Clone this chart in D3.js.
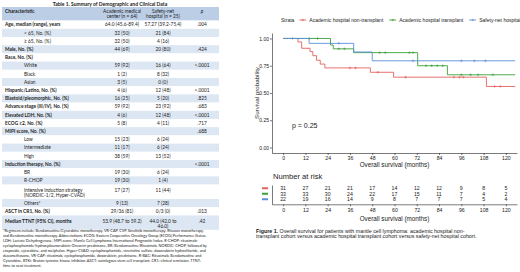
<!DOCTYPE html>
<html>
<head>
<meta charset="utf-8">
<script src="https://cdn.jsdelivr.net/npm/d3@7"></script>
<style>
  body { margin: 0; background: #fff; }
  svg { display: block; }
  .tbl text { font-family: Lato, "Open Sans", sans-serif; fill: #1a1a1a; }
  .km text { font-family: "Liberation Sans", Arial, sans-serif; fill: #1a1a1a; }
  .axis path, .axis line { stroke: #222; stroke-width: 0.6; }
</style>
</head>
<body>
<div id="svg-container"></div>
<script>
////////////////////////////////////////////////////////////////////
////////////////////////////  Data  ////////////////////////////////
// Table 1
const tableTitle = "Table 1. Summary of Demographic and Clinical Data";
const headers = ["Characteristic", "Academic medical\ncenter (n = 64)", "Safety-net\nhospital (n = 25)", "p"];
const rowLabels = [
  "Age, median (range), years", "< 65, No. (%)", "≥ 65, No. (%)", "Male, No. (%)",
  "Race, No. (%)", "White", "Black", "Asian", "Hispanic/Latino, No. (%)",
  "Blastoid/pleomorphic, No. (%)", "Advance stage (III/IV), No. (%)", "Elevated LDH, No. (%)",
  "ECOG ≥2, No. (%)", "MIPI score, No. (%)", "Low", "Intermediate", "High",
  "Induction therapy, No. (%)", "BR", "R-CHOP",
  "Intensive induction strategy\n(NORDIC-1/2, Hyper-CVAD)", "Others*",
  "ASCT in CR1, No. (%)", "Median TTNT (95% CI), months"
];
const academic = [
  "64.0 (45.6-89.4)", "32 (50)", "32 (50)", "44 (69)", "", "59 (92)", "1 (2)", "3 (5)",
  "4 (6)", "16 (25)", "59 (92)", "4 (6)", "5 (8)", "", "15 (23)", "11 (17)", "38 (59)",
  "", "19 (30)", "19 (30)", "17 (27)", "9 (13)", "29/36 (81)", "53.9 (48.7 to 59.2)"
];
const safetyNet = [
  "57.27 (39.2-75.4)", "21 (84)", "4 (16)", "20 (80)", "", "16 (64)", "8 (32)", "0 (0)",
  "12 (48)", "5 (20)", "23 (92)", "12 (48)", "4 (11)", "", "6 (24)", "6 (24)", "13 (52)",
  "", "6 (24)", "1 (4)", "11 (44)", "7 (28)", "0/3 (0)", "44.0 (42.0 to\n46.0)"
];
const pValues = [
  ".004", "", "", ".424", "", "<.0001", "", "", "<.0001", ".825", ".683", "<.0001",
  ".717", ".688", "", "", "", "<.0001", "", "", "", "", ".013", ".42"
];
const subRows = [1, 2, 5, 6, 7, 14, 15, 16, 18, 19, 20, 21];
const footnote = [
  "*Regimens include: Bendamustine/Cytarabine monotherapy, VR-CAP, CVP, Ibrutinib monotherapy, Rituxan monotherapy,",
  "and Bendamustine monotherapy. Abbreviations: ECOG: Eastern Cooperative Oncology Group (ECOG) Performance Status,",
  "LDH: Lactate Dehydrogenase, MIPI score: Mantle Cell Lymphoma International Prognostic Index, R-CHOP: rituximab-",
  "cyclophosphamide-hydroxydaunorubicin-Oncovin-prednisone, BR: Bendamustine/Rituximab, NORDIC: CHOP, followed by",
  "etoposide, cytarabine, and melphalan, Hyper-CVAD: cyclophosphamide, vincristine sulfate, doxorubicin hydrochloride, and",
  "dexamethasone, VR-CAP: rituximab, cyclophosphamide, doxorubicin, prednisone, R-BAC: Rituximab, Bendamustine and",
  "Cytarabine, BTKi: Bruton tyrosine kinase inhibitor, ASCT: autologous stem cell transplant, CR1: clinical remission, TTNT:",
  "time to next treatment."
];

// Figure 1 - Kaplan-Meier
const strata = ["Academic hospital non-transplant", "Academic hospital transplant", "Safety-net hospital"];
const strataColors = ["#e2625e", "#3ba03b", "#5b8fd9"];

const nonTxTimes = [0, 8, 10, 14.5, 16, 18, 20, 22.5, 47, 59.5, 109.5, 125];
const nonTxSurv = [1, 0.968, 0.91, 0.88, 0.842, 0.8, 0.765, 0.73, 0.69, 0.645, 0.56, 0.56];
const nonTxCensor = [36, 39, 51, 66, 92, 95, 97, 114, 117];

const txTimes = [0, 25.5, 27, 38, 72.5, 88.5, 125];
const txSurv = [1, 0.94, 0.905, 0.87, 0.75, 0.667, 0.667];
const txCensor = [14, 18.5, 30, 33, 52, 55, 68, 70, 77, 80, 83, 86, 96, 101, 105, 113];

const snTimes = [0, 14, 38, 48, 125];
const snSurv = [1, 0.955, 0.876, 0.795, 0.795];
const snCensor = [5, 30, 70, 96, 103, 109];

const timeTicks = [0, 12, 24, 36, 48, 60, 72, 84, 96, 108, 120];
const survTicks = [0, 0.25, 0.5, 0.75, 1];
const riskNonTx = [31, 27, 21, 21, 17, 14, 12, 12, 9, 8, 5];
const riskTx = [33, 33, 30, 24, 22, 17, 15, 11, 7, 4, 2];
const riskSn = [22, 19, 16, 14, 9, 8, 7, 7, 7, 5, 4];
const pText = "p = 0.25";

////////////////////////////////////////////////////////////////////
////////////////////////////  Init  ////////////////////////////////
const width = 520, height = 272;
const svg = d3.select("#svg-container").append("svg")
  .attr("width", width).attr("height", height);
svg.append("rect").attr("width", width).attr("height", height).attr("fill", "#fff");

////////////////////////////////////////////////////////////////////
////////////////////////////  Table  ///////////////////////////////
const tbl = svg.append("g").attr("class", "tbl");
const tblLeft = 2, tblRight = 219, headTop = 7, bodyTop = 20.6, unitH = 8.2;
const colX = d3.scaleOrdinal().domain([0, 1, 2, 3]).range([5, 122, 163, 202]);

const rows = rowLabels.map((label, i) => {
  const cells = [label, academic[i], safetyNet[i], pValues[i]].map((c) => c.split("\n"));
  return { i, cells, lines: d3.max(cells, (c) => c.length), sub: subRows.includes(i) };
});
let acc = 0;
rows.forEach((r) => { r.start = acc; acc += r.lines > 1 ? 1.756 : 1; r.end = acc; });
const rowY = d3.scaleLinear().domain([0, acc]).range([bodyTop, bodyTop + acc * unitH]);

tbl.append("text")
  .attr("x", 110).attr("y", 4).attr("dy", "0.35em")
  .attr("text-anchor", "middle").attr("font-size", 5).attr("font-weight", 700)
  .text(tableTitle);

// header
tbl.append("rect")
  .attr("x", tblLeft).attr("y", headTop)
  .attr("width", tblRight - tblLeft).attr("height", bodyTop - headTop)
  .attr("fill", "#bccde6");

headers.forEach((h, j) => {
  h.split("\n").forEach((ln, k) => {
    tbl.append("text")
      .attr("x", colX(j)).attr("y", 11 + k * 5.7).attr("dy", "0.35em")
      .attr("text-anchor", j === 0 ? "start" : "middle")
      .attr("font-size", 4.8)
      .attr("font-weight", j === 0 ? 700 : 400)
      .attr("font-style", j === 3 ? "italic" : "normal")
      .text(ln);
  });
});

// body rows
const rowG = tbl.selectAll(".row").data(rows).enter().append("g").attr("class", "row");
rowG.append("rect")
  .attr("x", tblLeft).attr("y", (d) => rowY(d.start))
  .attr("width", tblRight - tblLeft)
  .attr("height", (d) => rowY(d.end) - rowY(d.start))
  .attr("fill", (d) => (d.i % 2 === 1 ? "#dde7f3" : "#fff"));

rowG.each(function (r) {
  const g = d3.select(this);
  const y0 = rowY(r.start) + unitH / 2 + (r.lines > 1 ? 1.6 : 0);
  r.cells.forEach((cell, j) => {
    cell.forEach((ln, k) => {
      g.append("text")
        .attr("x", j === 0 ? colX(0) + (r.sub ? 19 : 0) : colX(j))
        .attr("y", y0 + k * 5).attr("dy", "0.35em")
        .attr("text-anchor", j === 0 ? "start" : "middle")
        .attr("font-size", 4.8)
        .attr("font-weight", j === 0 && !r.sub ? 700 : 400)
        .text(ln);
    });
  });
});

// footnote
tbl.selectAll(".foot").data(footnote).enter().append("text")
  .attr("class", "foot")
  .attr("x", 3).attr("y", (d, i) => 231 + i * 5).attr("dy", "0.35em")
  .attr("font-size", 3.8)
  .text((d) => d);

////////////////////////////////////////////////////////////////////
////////////////////////////  KM plot  /////////////////////////////
const km = svg.append("g").attr("class", "km");
const x = d3.scaleLinear().domain([-6, 126]).range([272, 517]);
const y = d3.scaleLinear().domain([-0.05, 1.05]).range([153, 33]);

// legend
let lx = 281;
const legY = 20;
const st = km.append("text").attr("x", lx).attr("y", legY).attr("dy", "0.35em")
  .attr("font-size", 5).text("Strata");
lx += st.node().getComputedTextLength() + 5;
const crossPath = (cx, cy, r) => `M${cx - r},${cy}h${2 * r}M${cx},${cy - r}v${2 * r}`;
strata.forEach((s, i) => {
  km.append("line").attr("x1", lx).attr("x2", lx + 7).attr("y1", legY).attr("y2", legY)
    .attr("stroke", strataColors[i]).attr("stroke-width", 0.9);
  km.append("path").attr("d", crossPath(lx + 3.5, legY, 1.2))
    .attr("stroke", strataColors[i]).attr("stroke-width", 0.6);
  lx += 10;
  const t = km.append("text").attr("x", lx).attr("y", legY).attr("dy", "0.35em")
    .attr("font-size", 5).text(s);
  lx += t.node().getComputedTextLength() + 6;
});

// axes
const yAxis = d3.axisLeft(y).tickValues(survTicks).tickFormat(d3.format(".2f"))
  .tickSize(2).tickSizeOuter(0).tickPadding(1);
km.append("g").attr("class", "axis").attr("transform", "translate(272,0)").call(yAxis)
  .attr("font-size", 5).attr("font-family", null);

const xAxis = d3.axisBottom(x).tickValues(timeTicks).tickSize(2).tickSizeOuter(0).tickPadding(1);
km.append("g").attr("class", "axis").attr("transform", "translate(0,153)").call(xAxis)
  .attr("font-size", 5.2).attr("font-family", null);

km.append("text")
  .attr("transform", "translate(257,93) rotate(-90)")
  .attr("text-anchor", "middle").attr("dy", "0.35em").attr("font-size", 6.2)
  .text("Survival probability");
km.append("text")
  .attr("x", 394.5).attr("y", 164.7).attr("dy", "0.35em")
  .attr("text-anchor", "middle").attr("font-size", 6.3)
  .text("Overall survival (months)");

// curves
const curves = [
  { times: nonTxTimes, surv: nonTxSurv, censor: nonTxCensor },
  { times: txTimes, surv: txSurv, censor: txCensor },
  { times: snTimes, surv: snSurv, censor: snCensor },
];
const line = d3.line().curve(d3.curveStepAfter).x((d) => x(d[0])).y((d) => y(d[1]));
curves.forEach((c, i) => {
  const pts = c.times.map((t, k) => [t, c.surv[k]]);
  km.append("path").attr("d", line(pts))
    .attr("fill", "none").attr("stroke", strataColors[i]).attr("stroke-width", 0.9);
  const survAt = (t) => c.surv[d3.bisectRight(c.times, t) - 1];
  km.append("path")
    .attr("d", c.censor.map((t) => crossPath(x(t), y(survAt(t)), 1.3)).join(""))
    .attr("stroke", strataColors[i]).attr("stroke-width", 0.6);
});

km.append("text").attr("x", 292).attr("y", 126).attr("dy", "0.35em")
  .attr("font-size", 7).text(pText);

////////////////////////////////////////////////////////////////////
////////////////////////////  Risk table  //////////////////////////
km.append("text").attr("x", 273).attr("y", 176.7).attr("dy", "0.35em")
  .attr("font-size", 7.6).text("Number at risk");

const riskY = d3.scaleBand().domain(strata).range([185.5, 202]);
const riskRows = [riskNonTx, riskTx, riskSn];
riskRows.forEach((vals, i) => {
  const cy = riskY(strata[i]) + riskY.bandwidth() / 2;
  km.append("line").attr("x1", 262).attr("x2", 268).attr("y1", cy).attr("y2", cy)
    .attr("stroke", strataColors[i]).attr("stroke-width", 2);
  km.selectAll(".risk" + i).data(vals).enter().append("text")
    .attr("x", (d, k) => x(timeTicks[k])).attr("y", cy).attr("dy", "0.35em")
    .attr("text-anchor", "middle").attr("font-size", 5.2)
    .text((d) => d);
});

const riskYAxis = d3.axisLeft(d3.scaleLinear().range([185, 204.3])).tickValues([]).tickSizeOuter(0);
km.append("g").attr("class", "axis").attr("transform", "translate(272,0)").call(riskYAxis);
const riskXAxis = d3.axisBottom(x).tickValues(timeTicks).tickSize(2).tickSizeOuter(0).tickPadding(2);
km.append("g").attr("class", "axis").attr("transform", "translate(0,204.3)").call(riskXAxis)
  .attr("font-size", 5.2).attr("font-family", null);
km.append("text")
  .attr("x", 394.5).attr("y", 218.5).attr("dy", "0.35em")
  .attr("text-anchor", "middle").attr("font-size", 6.3)
  .text("Overall survival (months)");

// caption
const cap1 = km.append("text").attr("x", 256).attr("y", 231).attr("dy", "0.35em").attr("font-size", 5.3);
cap1.append("tspan").attr("font-weight", 700).text("Figure 1. ");
cap1.append("tspan").text("Overall survival for patients with mantle cell lymphoma: academic hospital non-");
km.append("text").attr("x", 256).attr("y", 236.2).attr("dy", "0.35em").attr("font-size", 5.3)
  .text("transplant cohort versus academic hospital transplant cohort versus safety-net hospital cohort.");
</script>
</body>
</html>
